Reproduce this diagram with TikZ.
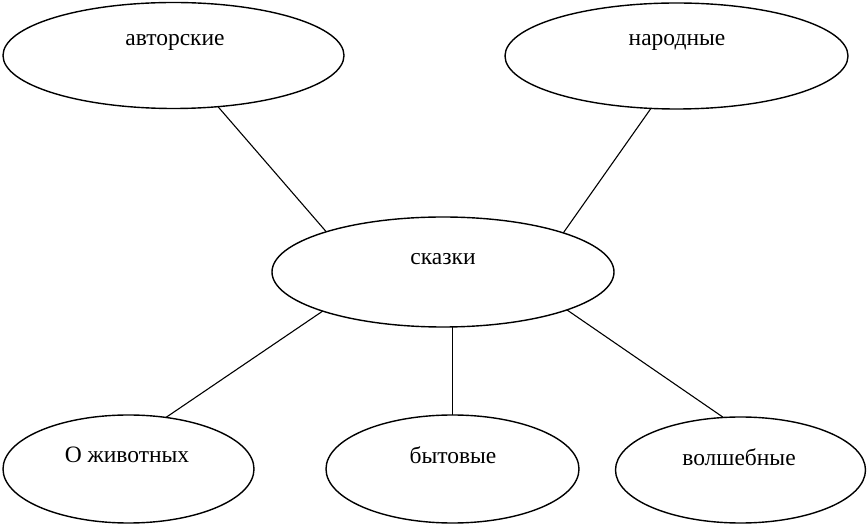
\documentclass[tikz,border=0pt]{standalone}
\usepackage{fontspec}
\setmainfont{Liberation Serif}
\usetikzlibrary{shapes.geometric}
\begin{document}
\begin{tikzpicture}[x=1pt,y=-1pt,
  oval/.style={ellipse,draw,line width=1.4pt,inner sep=0pt,outer sep=0pt},
  lbl/.style={font=\fontsize{23.5}{27}\selectfont,inner sep=0pt},
  link/.style={line width=1.1pt}]
\useasboundingbox (0,0) rectangle (868,526);
\node[oval,minimum width=341pt,minimum height=106pt] (a) at (173.5,55.5) {};
\node[oval,minimum width=343pt,minimum height=106pt] (n) at (676.5,56) {};
\node[oval,minimum width=342pt,minimum height=110pt] (s) at (443,272) {};
\node[oval,minimum width=251pt,minimum height=108pt] (z) at (128.5,469) {};
\node[oval,minimum width=253pt,minimum height=108pt] (b) at (452.5,469) {};
\node[oval,minimum width=250pt,minimum height=106pt] (v) at (740.5,470) {};
\node[lbl] (ta) at (175,42) {авторские};
\node[lbl] (tn) at (677,42) {народные};
\node[lbl] (ts) at (443,259) {сказки};
\node[lbl] (tz) at (127,455) {О животных};
\node[lbl] (tb) at (453,455) {бытовые};
\node[lbl] (tv) at (739,457) {волшебные};
\draw[link] (a.-49) -- (s.161.7);
\draw[link] (n.-116.8) -- (s.18.1);
\draw[link] (s.-162.1) -- (z.54.8);
\draw[link] (b.north) -- (b.north |- s.south);
\draw[link] (s.-17.2) -- (v.108.4);
\end{tikzpicture}
\end{document}
